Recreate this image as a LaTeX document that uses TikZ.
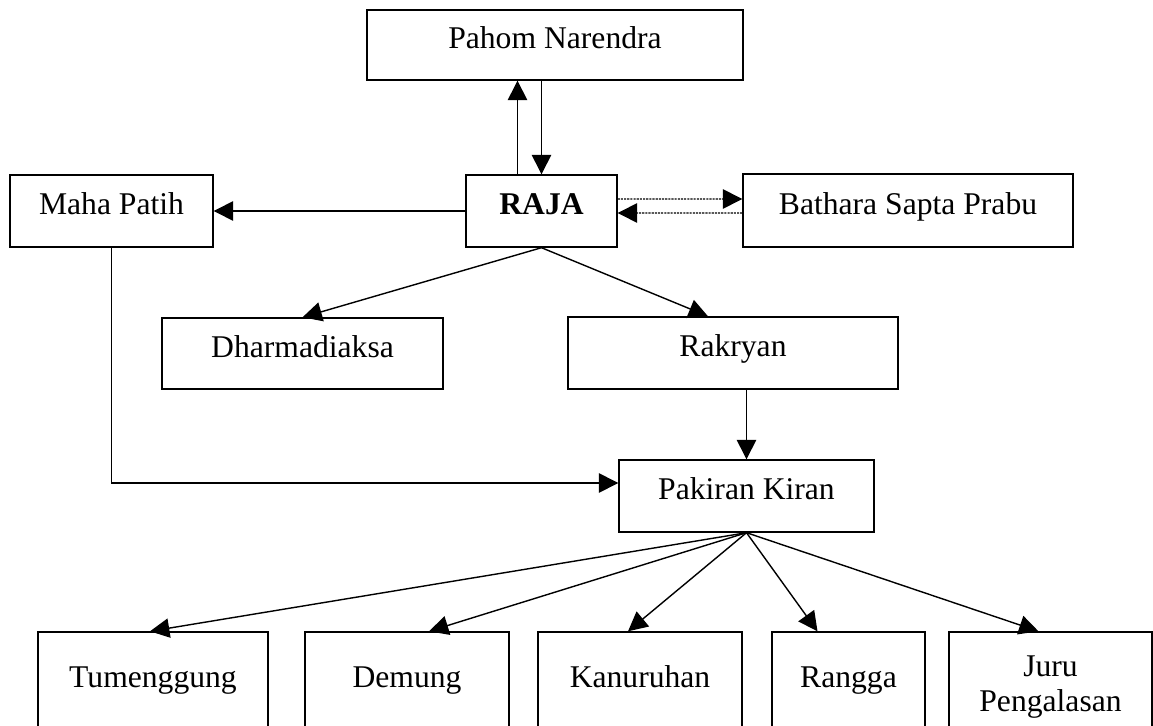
\documentclass[tikz,border=0pt]{standalone}
\usepackage{fontspec}
\setmainfont{Liberation Serif}
\usetikzlibrary{arrows.meta}
\tikzset{
	box/.style 2 args={draw, rectangle, line width=0.8pt, minimum width=#1*0.02cm, minimum height=#2*0.02cm,
		inner sep=0pt, align=center, text height=0.7em, text depth=0.3em, font=\fontsize{18}{20}\selectfont},
	arr/.style={-{Triangle[length=11pt,width=11pt]}, line width=0.8pt},
	dotarr/.style={arr, dash pattern=on 1.2pt off 0.6pt}
}
\begin{document}
\begin{tikzpicture}[x=0.02cm, y=-0.02cm]
	\useasboundingbox (0,0) rectangle (1153,726);
	\clip (0,0) rectangle (1153,726);
	\fill[white] (0,0) rectangle (1153,726);
	
	\node[box={376}{70}] (pahom) at (555,45) {Pahom Narendra};
	\node[box={151}{72}] (raja) at (541.5,211) {\textbf{RAJA}};
	\node[box={203}{72}] (maha) at (111.5,211) {Maha Patih};
	\node[box={330}{73}] (bathara) at (908,210.5) {Bathara Sapta Prabu};
	\node[box={281}{71}] (dharma) at (302.5,353.5) {Dharmadiaksa};
	\node[box={330}{72}] (rakryan) at (733,353) {Rakryan};
	\node[box={255}{72}] (pakiran) at (746.5,496) {Pakiran Kiran};
	
	\node[box={230}{104}] (tum) at (153,684) {Tumenggung};
	\node[box={204}{104}] (dem) at (407,684) {Demung};
	\node[box={204}{104}] (kan) at (640,684) {Kanuruhan};
	\node[box={153}{104}] (ran) at (848.5,684) {Rangga};
	\node[box={203}{104}, text height=3.4em] (jur) at (1050.5,684) {Juru\\Pengalasan};
	
	\coordinate (up0) at ([xshift=-0.48cm]raja.north);
	\draw[arr] (up0) -- (up0 |- pahom.south);
	\draw[arr] (raja.north |- pahom.south) -- (raja.north);
	
	\draw[arr] (raja.west) -- (maha.east);
	\draw[dotarr] ([yshift=0.24cm]raja.east) -- ([yshift=0.23cm]bathara.west);
	\draw[dotarr] ([yshift=-0.05cm]bathara.west) -- ([yshift=-0.04cm]raja.east);
	
	\draw[arr] (raja.south) -- (dharma.north);
	\draw[arr] (raja.south) -- ([xshift=-0.5cm]rakryan.north);
	\draw[arr] (rakryan.south -| pakiran.north) -- (pakiran.north);
	\draw[arr] (maha.south) |- ([yshift=0.26cm]pakiran.west);
	
	\foreach \n/\dx in {tum/-3, dem/22, kan/-12, ran/-31, jur/-12}
		\draw[arr] (pakiran.south) -- ([xshift=\dx*0.02cm]\n.north);
\end{tikzpicture}
\end{document}
